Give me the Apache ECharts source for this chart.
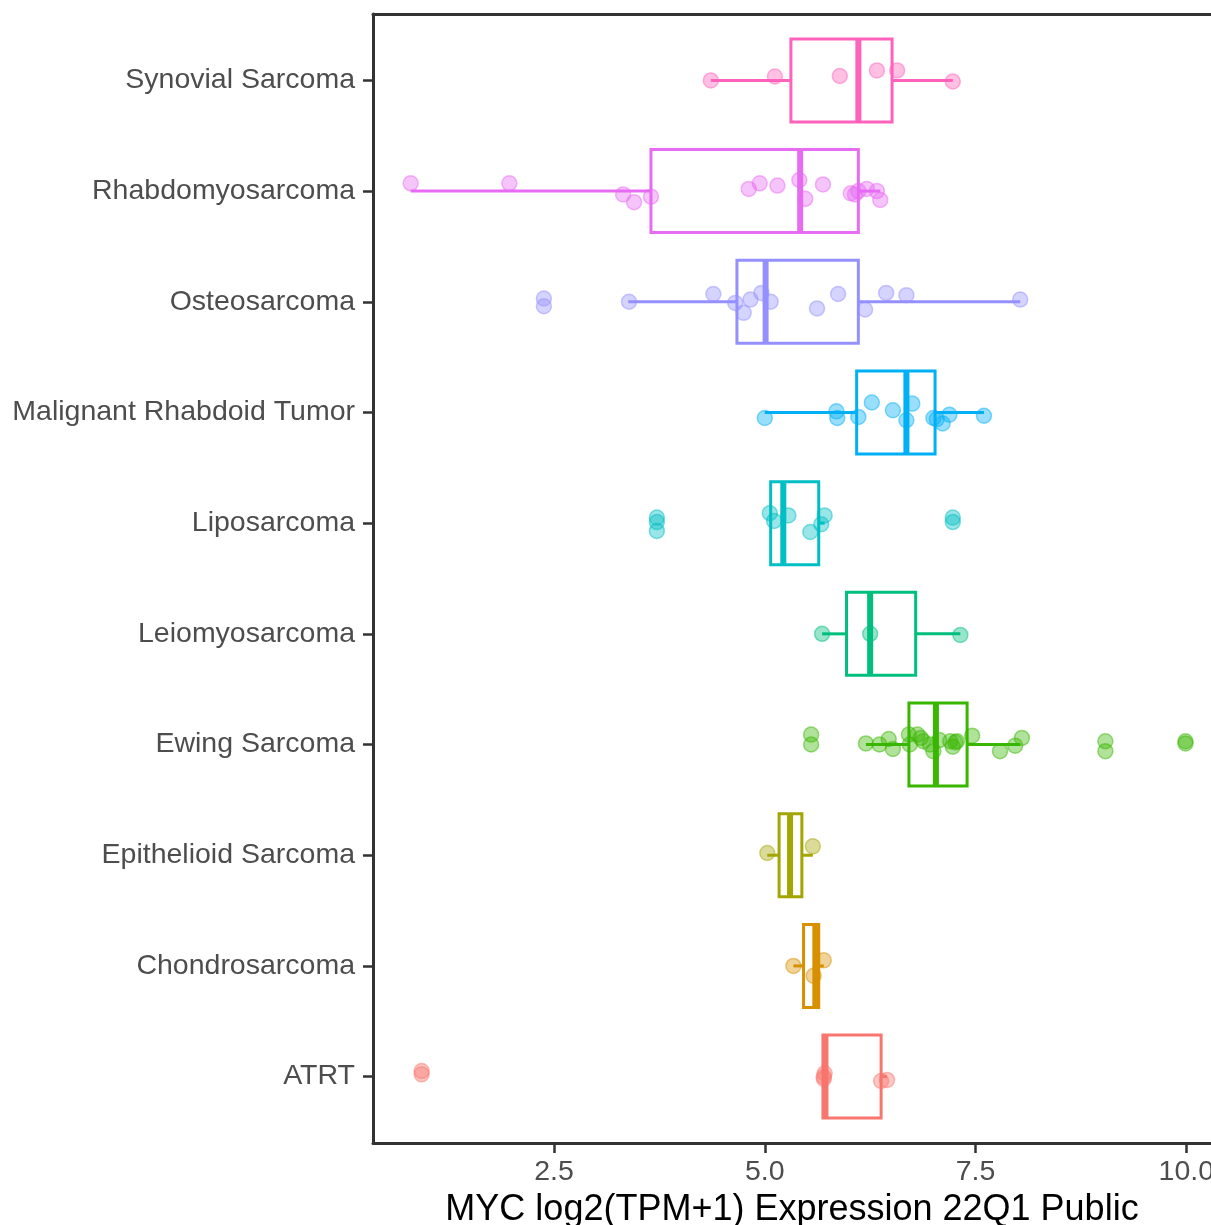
<!DOCTYPE html>
<html>
<head>
<meta charset="utf-8">
<script src="https://cdn.jsdelivr.net/npm/echarts@6/dist/echarts.min.js"></script>
<style>
  html, body { margin: 0; padding: 0; background: #fff; }
  #chart { width: 1211px; height: 1225px; }
</style>
</head>
<body>
<div id="chart"></div>
<script>
// groups, bottom to top (y value = index + 1)
const groups = ['ATRT', 'Chondrosarcoma', 'Epithelioid Sarcoma', 'Ewing Sarcoma', 'Leiomyosarcoma',
  'Liposarcoma', 'Malignant Rhabdoid Tumor', 'Osteosarcoma', 'Rhabdomyosarcoma', 'Synovial Sarcoma']
const colors = ['#F8766D', '#D89000', '#A3A500', '#39B600', '#00BF7D',
  '#00BFC4', '#00B0F6', '#9590FF', '#E76BF3', '#FF62BC']

// box statistics
const whiskLow  = [5.69, 5.34, 5.03, 6.20, 5.68, 5.06, 5.00, 3.38, 0.80, 4.36]
const q1        = [5.69, 5.46, 5.17, 6.71, 5.97, 5.07, 6.09, 4.67, 3.65, 5.31]
const median    = [5.72, 5.60, 5.30, 7.03, 6.25, 5.22, 6.68, 5.01, 5.42, 6.11]
const q3        = [6.38, 5.64, 5.44, 7.40, 6.79, 5.64, 7.02, 6.11, 6.11, 6.51]
const whiskHigh = [6.45, 5.70, 5.57, 8.03, 7.32, 5.71, 7.60, 8.03, 6.37, 7.23]

// jittered points: [expression, vertical jitter]
const ptsATRT = [[0.93, 0.05], [0.93, 0.02], [5.70, 0], [5.70, -0.02], [5.71, 0.03], [6.38, -0.04], [6.45, -0.03]]
const ptsChondro = [[5.34, 0], [5.58, -0.09], [5.70, 0.05]]
const ptsEpithelioid = [[5.03, 0.02], [5.57, 0.08]]
const ptsEwing = [[5.55, 0.09], [5.55, 0], [6.20, 0.01], [6.36, 0], [6.47, 0.05], [6.52, -0.04], [6.71, 0.09],
  [6.72, 0], [6.81, 0.09], [6.85, 0.06], [6.88, 0.03], [6.96, 0], [7.00, -0.06], [7.07, 0.04], [7.20, 0.03],
  [7.23, -0.02], [7.26, 0.02], [7.28, 0.03], [7.46, 0.08], [7.79, -0.06], [7.97, -0.01], [8.05, 0.06],
  [9.04, 0.03], [9.04, -0.06], [9.99, 0.03], [9.99, 0.01]]
const ptsLeio = [[5.68, 0], [6.25, 0], [7.32, -0.01]]
const ptsLipo = [[3.72, 0.05], [3.72, 0.01], [3.72, -0.07], [5.06, 0.09], [5.11, 0.02], [5.28, 0.07],
  [5.54, -0.08], [5.67, -0.01], [5.71, 0.07], [7.23, 0.05], [7.23, 0.01]]
const ptsMRT = [[5.00, -0.05], [5.85, 0.01], [5.86, -0.05], [6.11, -0.04], [6.27, 0.09], [6.52, 0.02],
  [6.68, -0.07], [6.75, 0.08], [7.00, -0.05], [7.04, -0.06], [7.11, -0.10], [7.19, -0.02], [7.60, -0.03]]
const ptsOsteo = [[2.38, 0.03], [2.38, -0.04], [3.39, 0], [4.39, 0.07], [4.65, -0.01], [4.75, -0.10],
  [4.83, 0.02], [4.96, 0.08], [5.07, 0], [5.62, -0.06], [5.87, 0.07], [6.19, -0.07], [6.44, 0.08],
  [6.68, 0.06], [8.03, 0.02]]
const ptsRhabdo = [[0.80, 0.07], [1.97, 0.07], [3.32, -0.03], [3.45, -0.10], [3.65, -0.05], [4.81, 0.02],
  [4.94, 0.07], [5.15, 0.05], [5.41, 0.10], [5.48, -0.07], [5.69, 0.06], [6.02, -0.02], [6.07, -0.03],
  [6.11, 0], [6.21, 0.02], [6.33, 0], [6.37, -0.08]]
const ptsSynovial = [[4.36, 0], [5.12, 0.035], [5.89, 0.04], [6.33, 0.09], [6.57, 0.09], [7.23, -0.01]]

const points = [ptsATRT, ptsChondro, ptsEpithelioid, ptsEwing, ptsLeio,
  ptsLipo, ptsMRT, ptsOsteo, ptsRhabdo, ptsSynovial]

const xTicks = [2.5, 5, 7.5, 10]
const yTicks = groups.map((g, i) => i + 1)

const axisColor = '#333333'
const labelFont = { fontFamily: 'Liberation Sans', fontSize: 28.5, color: '#4D4D4D' }

const hexToRgba = (hex, a) => {
  const n = parseInt(hex.slice(1), 16)
  return `rgba(${n >> 16},${(n >> 8) & 255},${n & 255},${a})`
}

const boxData = groups.map((g, i) => [i + 1, whiskLow[i], q1[i], median[i], q3[i], whiskHigh[i]])

const renderBox = function (params, api) {
  const y = api.value(0)
  const lo = api.coord([api.value(1), y])
  const a = api.coord([api.value(2), y])
  const md = api.coord([api.value(3), y])
  const b = api.coord([api.value(4), y])
  const hi = api.coord([api.value(5), y])
  const half = api.size([0, 0.75])[1] / 2
  const color = colors[params.dataIndex]
  const line = { stroke: color, lineWidth: 3 }
  return {
    type: 'group',
    children: [
      { type: 'line', shape: { x1: lo[0], y1: lo[1], x2: a[0], y2: a[1] }, style: line },
      { type: 'line', shape: { x1: b[0], y1: b[1], x2: hi[0], y2: hi[1] }, style: line },
      { type: 'rect', shape: { x: a[0], y: a[1] - half, width: b[0] - a[0], height: half * 2 },
        style: { fill: '#fff', stroke: color, lineWidth: 3 } },
      { type: 'line', shape: { x1: md[0], y1: md[1] - half, x2: md[0], y2: md[1] + half },
        style: { stroke: color, lineWidth: 6 } }
    ]
  }
}

const series = [{
  type: 'custom',
  renderItem: renderBox,
  encode: { x: [1, 2, 3, 4, 5], y: 0 },
  data: boxData,
  z: 2
}]
points.forEach((pts, i) => {
  series.push({
    type: 'scatter',
    name: groups[i],
    symbolSize: 15,
    itemStyle: {
      color: hexToRgba(colors[i], 0.5),
      borderColor: hexToRgba(colors[i], 0.6),
      borderWidth: 1.5
    },
    data: pts.map(p => [p[0], i + 1 + p[1]]),
    z: 3
  })
})

const option = {
  animation: false,
  backgroundColor: '#fff',
  grid: { left: 373, top: 14, right: 0, bottom: 82, containLabel: false, outerBoundsMode: 'none' },
  xAxis: [
    {
      type: 'value',
      min: 0.353,
      max: 10.293,
      position: 'bottom',
      splitLine: { show: false },
      axisLine: { onZero: false, lineStyle: { color: axisColor, width: 3 } },
      axisTick: { customValues: xTicks, length: 10, lineStyle: { color: axisColor, width: 2.5 } },
      axisLabel: { customValues: xTicks, margin: 15, formatter: v => v.toFixed(1), ...labelFont },
      name: 'MYC log2(TPM+1) Expression 22Q1 Public',
      nameLocation: 'middle',
      nameGap: 49,
      nameTextStyle: { fontFamily: 'Liberation Sans', fontSize: 36, color: '#000' }
    },
    {
      type: 'value',
      min: 0.353,
      max: 10.293,
      position: 'top',
      splitLine: { show: false },
      axisLine: { show: true, onZero: false, lineStyle: { color: axisColor, width: 3 } },
      axisTick: { show: false },
      axisLabel: { show: false }
    }
  ],
  yAxis: {
    type: 'value',
    min: 0.4,
    max: 10.6,
    splitLine: { show: false },
    axisLine: { show: true, onZero: false, lineStyle: { color: axisColor, width: 3 } },
    axisTick: { customValues: yTicks, length: 10, lineStyle: { color: axisColor, width: 2.5 } },
    axisLabel: { customValues: yTicks, margin: 18, formatter: v => groups[Math.round(v) - 1], ...labelFont }
  },
  series
}

const chart = echarts.init(document.getElementById('chart'), null, { renderer: 'canvas' })
chart.setOption(option)
</script>
</body>
</html>
